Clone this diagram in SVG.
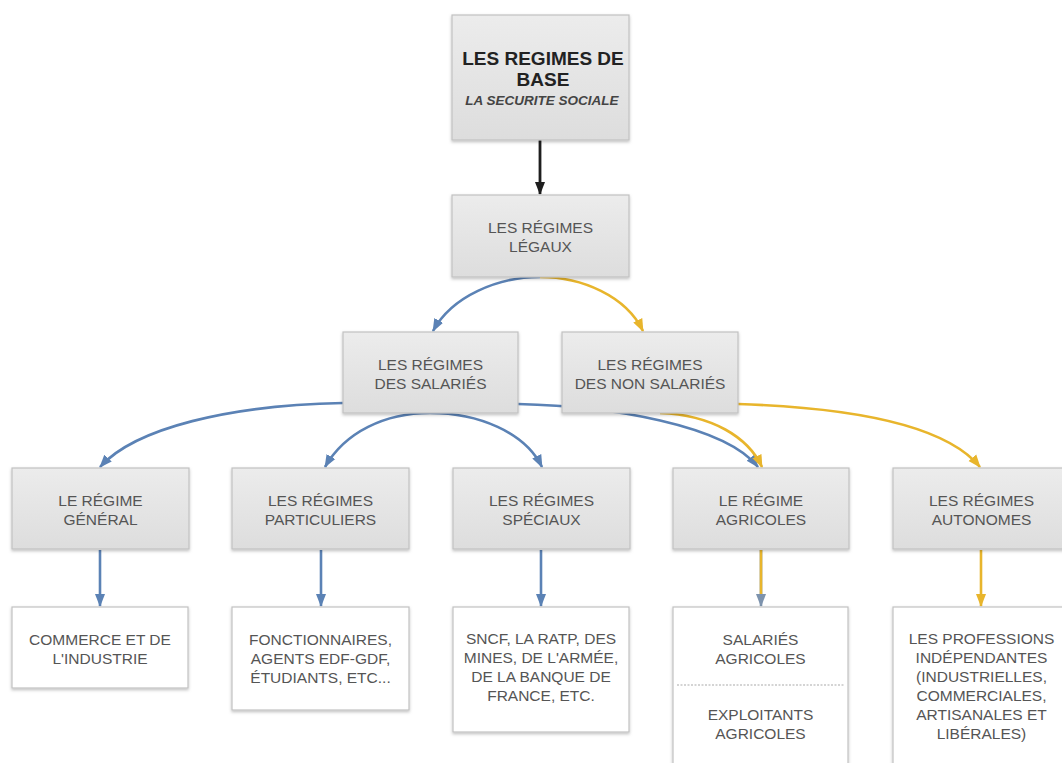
<svg xmlns="http://www.w3.org/2000/svg" width="1062" height="763" viewBox="0 0 1062 763">
<defs>
<style>
.box{fill:url(#g);stroke:#c2c2c2;stroke-width:1.2;filter:url(#sh)}
.wbox{fill:#ffffff;stroke:#c2c2c2;stroke-width:1.2;filter:url(#sh)}
.t{font-family:"Liberation Sans",Arial,sans-serif;font-size:15.5px;fill:#555555;text-anchor:middle}
.title{font-family:"Liberation Sans",Arial,sans-serif;font-size:19px;font-weight:bold;fill:#222222;text-anchor:middle}
.sub{font-family:"Liberation Sans",Arial,sans-serif;font-size:13.5px;font-style:italic;font-weight:bold;fill:#444444;text-anchor:middle}
.blue{fill:none;stroke:#5b82b5;stroke-width:2.6}
.yel{fill:none;stroke:#e8b52c;stroke-width:2.6}
.blk{fill:none;stroke:#1e1e1e;stroke-width:2.8}
</style>
<linearGradient id="g" x1="0" y1="0" x2="0" y2="1">
<stop offset="0" stop-color="#ececec"/>
<stop offset="1" stop-color="#dddddd"/>
</linearGradient>
<filter id="sh" x="-10%" y="-10%" width="120%" height="130%">
<feDropShadow dx="0" dy="1.5" stdDeviation="1.5" flood-color="#000" flood-opacity="0.25"/>
</filter>
<marker id="ab" markerUnits="userSpaceOnUse" markerWidth="13" markerHeight="12" viewBox="0 0 13 12" refX="12" refY="6" orient="auto">
<path d="M0,1 L13,6 L0,11 z" fill="#5b82b5"/>
</marker>
<marker id="ay" markerUnits="userSpaceOnUse" markerWidth="13" markerHeight="12" viewBox="0 0 13 12" refX="12" refY="6" orient="auto">
<path d="M0,1 L13,6 L0,11 z" fill="#e8b52c"/>
</marker>
<marker id="ak" markerUnits="userSpaceOnUse" markerWidth="13" markerHeight="12" viewBox="0 0 13 12" refX="12" refY="6" orient="auto">
<path d="M0,1 L13,6 L0,11 z" fill="#1e1e1e"/>
</marker>
<marker id="ag" markerUnits="userSpaceOnUse" markerWidth="13" markerHeight="12" viewBox="0 0 13 12" refX="12" refY="6" orient="auto">
<path d="M0,1 L13,6 L0,11 z" fill="#7d93ad"/>
</marker>
</defs>
<rect width="1062" height="763" fill="#ffffff"/>

<g id="connectors">
<path class="blk" d="M540,140 L540,194" marker-end="url(#ak)"/>
<path class="blue" d="M540,277 C498,277 452,296 433,331" marker-end="url(#ab)"/>
<path class="yel" d="M540,277 C582,277 626,296 643,331" marker-end="url(#ay)"/>
<path class="blue" d="M343,403 C230,405 135,428 100,467" marker-end="url(#ab)"/>
<path class="blue" d="M430,413 C385,413 345,432 325,467" marker-end="url(#ab)"/>
<path class="blue" d="M430,413 C478,413 525,432 542,467" marker-end="url(#ab)"/>
<path class="blue" d="M518,404 C610,406 725,425 758,467" marker-end="url(#ab)"/>
<path class="yel" d="M660,413 C712,415 748,437 762,467" marker-end="url(#ay)"/>
<path class="yel" d="M738,404 C862,408 948,428 980,467" marker-end="url(#ay)"/>
<path class="blue" d="M100,550 L100,606" marker-end="url(#ab)"/>
<path class="blue" d="M321,550 L321,606" marker-end="url(#ab)"/>
<path class="blue" d="M541,550 L541,606" marker-end="url(#ab)"/>
<path d="M761,550 L761,606" fill="none" stroke="#7d93ad" stroke-width="2.6" marker-end="url(#ag)"/>
<path class="yel" d="M761,550 L761,594"/>
<path class="yel" d="M981,550 L981,606" marker-end="url(#ay)"/>
</g>

<g id="n-base">
<rect class="box" x="452" y="15" width="177" height="125"/>
<text class="title" x="543" y="65">LES REGIMES DE</text>
<text class="title" x="543" y="86">BASE</text>
<text class="sub" x="542" y="105">LA SECURITE SOCIALE</text>
</g>
<g id="n-legaux">
<rect class="box" x="452" y="195" width="177" height="82"/>
<text class="t" x="540.5" y="233">LES RÉGIMES</text>
<text class="t" x="540.5" y="252">LÉGAUX</text>
</g>
<g id="n-salaries">
<rect class="box" x="343" y="332" width="175" height="81"/>
<text class="t" x="430.5" y="370">LES RÉGIMES</text>
<text class="t" x="430.5" y="389">DES SALARIÉS</text>
</g>
<g id="n-nonsalaries">
<rect class="box" x="562" y="332" width="176" height="81"/>
<text class="t" x="650" y="370">LES RÉGIMES</text>
<text class="t" x="650" y="389">DES NON SALARIÉS</text>
</g>
<g id="n-general">
<rect class="box" x="12" y="468" width="177" height="81"/>
<text class="t" x="100.5" y="506">LE RÉGIME</text>
<text class="t" x="100.5" y="525">GÉNÉRAL</text>
</g>
<g id="n-particuliers">
<rect class="box" x="232" y="468" width="177" height="81"/>
<text class="t" x="320.5" y="506">LES RÉGIMES</text>
<text class="t" x="320.5" y="525">PARTICULIERS</text>
</g>
<g id="n-speciaux">
<rect class="box" x="453" y="468" width="177" height="81"/>
<text class="t" x="541.5" y="506">LES RÉGIMES</text>
<text class="t" x="541.5" y="525">SPÉCIAUX</text>
</g>
<g id="n-agricole">
<rect class="box" x="673" y="468" width="176" height="81"/>
<text class="t" x="761" y="506">LE RÉGIME</text>
<text class="t" x="761" y="525">AGRICOLES</text>
</g>
<g id="n-autonomes">
<rect class="box" x="893" y="468" width="177" height="81"/>
<text class="t" x="981.5" y="506">LES RÉGIMES</text>
<text class="t" x="981.5" y="525">AUTONOMES</text>
</g>
<g id="n-commerce">
<rect class="wbox" x="12" y="607" width="176" height="81"/>
<text class="t" x="100" y="645">COMMERCE ET DE</text>
<text class="t" x="100" y="664">L'INDUSTRIE</text>
</g>
<g id="n-fonctionnaires">
<rect class="wbox" x="232" y="607" width="177" height="103"/>
<text class="t" x="320.5" y="645">FONCTIONNAIRES,</text>
<text class="t" x="320.5" y="664">AGENTS EDF-GDF,</text>
<text class="t" x="320.5" y="683">ÉTUDIANTS, ETC...</text>
</g>
<g id="n-sncf">
<rect class="wbox" x="453" y="607" width="176" height="125"/>
<text class="t" x="541" y="644">SNCF, LA RATP, DES</text>
<text class="t" x="541" y="663">MINES, DE L'ARMÉE,</text>
<text class="t" x="541" y="682">DE LA BANQUE DE</text>
<text class="t" x="541" y="701">FRANCE, ETC.</text>
</g>
<g id="n-agri-detail">
<rect class="wbox" x="673" y="607" width="175" height="170"/>
<text class="t" x="760.5" y="645">SALARIÉS</text>
<text class="t" x="760.5" y="664">AGRICOLES</text>
<line x1="677" y1="685" x2="845" y2="685" stroke="#aaaaaa" stroke-width="1.2" stroke-dasharray="2,1.5"/>
<text class="t" x="760.5" y="720">EXPLOITANTS</text>
<text class="t" x="760.5" y="739">AGRICOLES</text>
</g>
<g id="n-professions">
<rect class="wbox" x="893" y="607" width="177" height="170"/>
<text class="t" x="981.5" y="644">LES PROFESSIONS</text>
<text class="t" x="981.5" y="663">INDÉPENDANTES</text>
<text class="t" x="981.5" y="682">(INDUSTRIELLES,</text>
<text class="t" x="981.5" y="701">COMMERCIALES,</text>
<text class="t" x="981.5" y="720">ARTISANALES ET</text>
<text class="t" x="981.5" y="739">LIBÉRALES)</text>
</g>
</svg>
